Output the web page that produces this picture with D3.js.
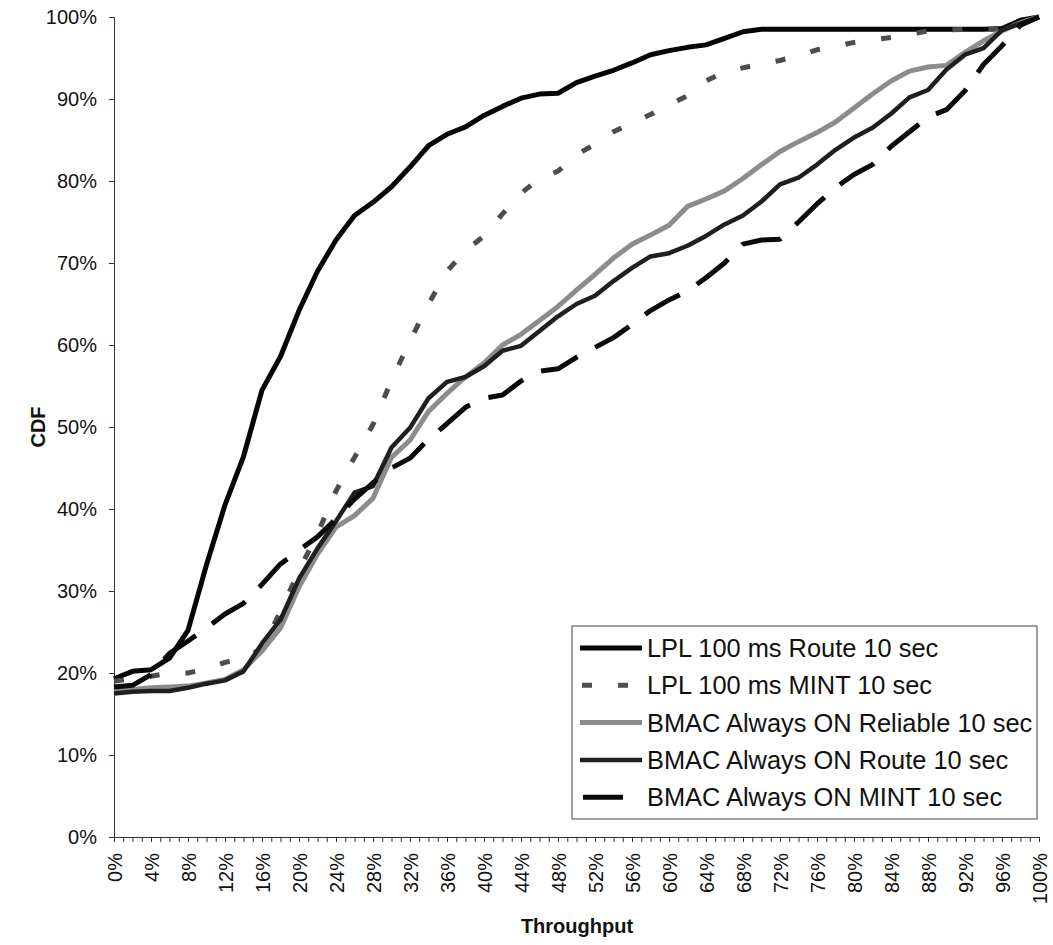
<!DOCTYPE html>
<html>
<head>
<meta charset="utf-8">
<script src="https://cdn.jsdelivr.net/npm/d3@7/dist/d3.min.js"></script>
<style>
  body { margin: 0; background: #fff; }
  text { font-family: "Liberation Sans", Arial, sans-serif; fill: #111; }
</style>
</head>
<body>
<div id="chart"></div>
<script>
// Throughput (%) categories, one point every 2%
const throughput = [0,2,4,6,8,10,12,14,16,18,20,22,24,26,28,30,32,34,36,38,40,42,44,46,48,50,
  52,54,56,58,60,62,64,66,68,70,72,74,76,78,80,82,84,86,88,90,92,94,96,98,100];

// CDF values (%)
const lplRoute = [19.3,20.2,20.4,21.8,25.2,33.2,40.5,46.4,54.5,58.6,64.2,69,72.8,75.8,77.4,79.3,81.7,84.3,85.7,86.6,
  88,89.1,90.1,90.6,90.7,92,92.8,93.5,94.4,95.4,95.9,96.3,96.6,97.4,98.2,98.5,98.5,98.5,98.5,98.5,
  98.5,98.5,98.5,98.5,98.5,98.5,98.5,98.5,98.6,99.6,100];
const lplMint = [19,19.3,19.6,20,20,20.5,21.3,21.8,23,27.5,32.5,37,42.2,46.3,50.3,55.7,60.5,65,69,71.5,
  73.3,76,78.5,80.3,81.2,83.2,84.5,86,87.1,88.1,89.3,90.4,92.2,93.3,93.8,94.3,94.7,95.3,96,96.4,
  96.9,97.2,97.5,97.9,98.3,98.4,98.5,98.5,98.5,99.3,100];
const bmacReliable = [17.8,18,18.2,18.3,18.4,18.8,19.2,20.4,22.7,25.5,30.5,34.5,37.8,39.2,41.3,46.3,48.4,51.9,54.1,56.1,
  57.8,60,61.3,63,64.7,66.7,68.6,70.6,72.3,73.4,74.6,76.9,77.8,78.8,80.3,82,83.6,84.8,85.9,87.2,
  88.9,90.6,92.2,93.4,93.9,94.1,95.7,97.1,98.3,99.3,100];
const bmacRoute = [17.5,17.7,17.8,17.8,18.2,18.7,19.1,20.2,23.6,26.5,31.5,35.2,38.5,42,42.8,47.5,49.9,53.5,55.5,56.1,
  57.4,59.3,59.9,61.7,63.5,65,66,67.8,69.4,70.8,71.2,72.1,73.3,74.7,75.8,77.5,79.6,80.4,82,83.8,
  85.3,86.5,88.2,90.2,91.1,93.6,95.4,96.2,98.4,99.2,100];
const bmacMint = [18.3,18.5,19.8,22.4,23.9,25.5,27.2,28.5,30.8,33.3,35,36.6,38.8,41.2,43.2,45,46.2,48.5,50.4,52.4,
  53.5,53.9,55.6,56.8,57.1,58.5,59.7,60.9,62.5,64.2,65.5,66.6,68.2,70,72.3,72.8,72.9,75,77.2,79.2,
  80.8,82,84.2,86,87.8,88.7,91,94.2,96.5,99,100];

const seriesNames = [
  "LPL 100 ms Route 10 sec",
  "LPL 100 ms MINT 10 sec",
  "BMAC Always ON Reliable 10 sec",
  "BMAC Always ON Route 10 sec",
  "BMAC Always ON MINT 10 sec"
];
const seriesValues = [lplRoute, lplMint, bmacReliable, bmacRoute, bmacMint];

const xTickLabels = [0,4,8,12,16,20,24,28,32,36,40,44,48,52,56,60,64,68,72,76,80,84,88,92,96,100];
const yTickLabels = [0,10,20,30,40,50,60,70,80,90,100];

// styles per series
const styles = [
  {color: "#050505", width: 5, dash: null},
  {color: "#4d4d4d", width: 5, dash: "10,26"},
  {color: "#8c8c8c", width: 5, dash: null},
  {color: "#1f1f1f", width: 4.5, dash: null},
  {color: "#0a0a0a", width: 5, dash: "40,20"}
];

const W = 1053, H = 945;
const plotLeft = 114, plotRight = 1039, plotTop = 17, plotBottom = 837;

const svg = d3.select("#chart").append("svg")
  .attr("width", W)
  .attr("height", H);

const x = d3.scaleLinear().domain([0, 100]).range([plotLeft, plotRight]);
const y = d3.scaleLinear().domain([0, 100]).range([plotBottom, plotTop]);

// y axis
const yAxis = svg.append("g")
  .attr("transform", `translate(${plotLeft},0)`)
  .call(d3.axisLeft(y).tickValues(yTickLabels).tickSize(5).tickPadding(12).tickFormat(d => d + "%"));
yAxis.selectAll("text").style("font-size", "20px");

// x axis minor ticks every 1%
svg.append("g")
  .attr("transform", `translate(0,${plotBottom})`)
  .call(d3.axisBottom(x).tickValues(d3.range(0, 101)).tickSize(5).tickFormat(""));

// x axis labels every 4%
const xAxis = svg.append("g")
  .attr("transform", `translate(0,${plotBottom})`)
  .call(d3.axisBottom(x).tickValues(xTickLabels).tickSize(5).tickFormat(d => d + "%"));
xAxis.selectAll("text")
  .attr("transform", "rotate(-90)")
  .attr("x", -16)
  .attr("y", 0)
  .attr("dy", "0.35em")
  .style("text-anchor", "end")
  .style("font-size", "20px");

svg.selectAll(".domain, .tick line").attr("stroke", "#333").attr("stroke-width", 1);

// axis titles
svg.append("text")
  .attr("transform", `translate(38,${(plotTop + plotBottom) / 2}) rotate(-90)`)
  .attr("text-anchor", "middle")
  .attr("dy", "0.35em")
  .style("font-size", "20px")
  .style("font-weight", "bold")
  .text("CDF");

svg.append("text")
  .attr("x", 577)
  .attr("y", 933)
  .attr("text-anchor", "middle")
  .style("font-size", "20px")
  .style("font-weight", "bold")
  .text("Throughput");

// lines
const line = d3.line()
  .x((d, i) => x(throughput[i]))
  .y(d => y(d));

svg.append("g").selectAll("path")
  .data(seriesValues)
  .enter()
  .append("path")
  .attr("d", d => line(d))
  .attr("fill", "none")
  .attr("stroke", (d, i) => styles[i].color)
  .attr("stroke-width", (d, i) => styles[i].width)
  .attr("stroke-dasharray", (d, i) => styles[i].dash)
  .attr("stroke-linejoin", "round");

// legend
const legend = svg.append("g");
legend.append("rect")
  .attr("x", 572)
  .attr("y", 626)
  .attr("width", 465)
  .attr("height", 193)
  .attr("fill", "#fff")
  .attr("stroke", "#444")
  .attr("stroke-width", 1);

const items = legend.selectAll(".item")
  .data(seriesNames)
  .enter()
  .append("g")
  .attr("class", "item")
  .attr("transform", (d, i) => `translate(0,${648 + i * 37.3})`);

items.append("line")
  .attr("x1", (d, i) => i === 1 ? 582 : i === 4 ? 583 : 580)
  .attr("x2", 642)
  .attr("y1", 0)
  .attr("y2", 0)
  .attr("stroke", (d, i) => styles[i].color)
  .attr("stroke-width", (d, i) => styles[i].width)
  .attr("stroke-dasharray", (d, i) => styles[i].dash);

items.append("text")
  .attr("x", 647)
  .attr("y", 0)
  .attr("dy", "0.36em")
  .style("font-size", "25.4px")
  .text(d => d);
</script>
</body>
</html>
